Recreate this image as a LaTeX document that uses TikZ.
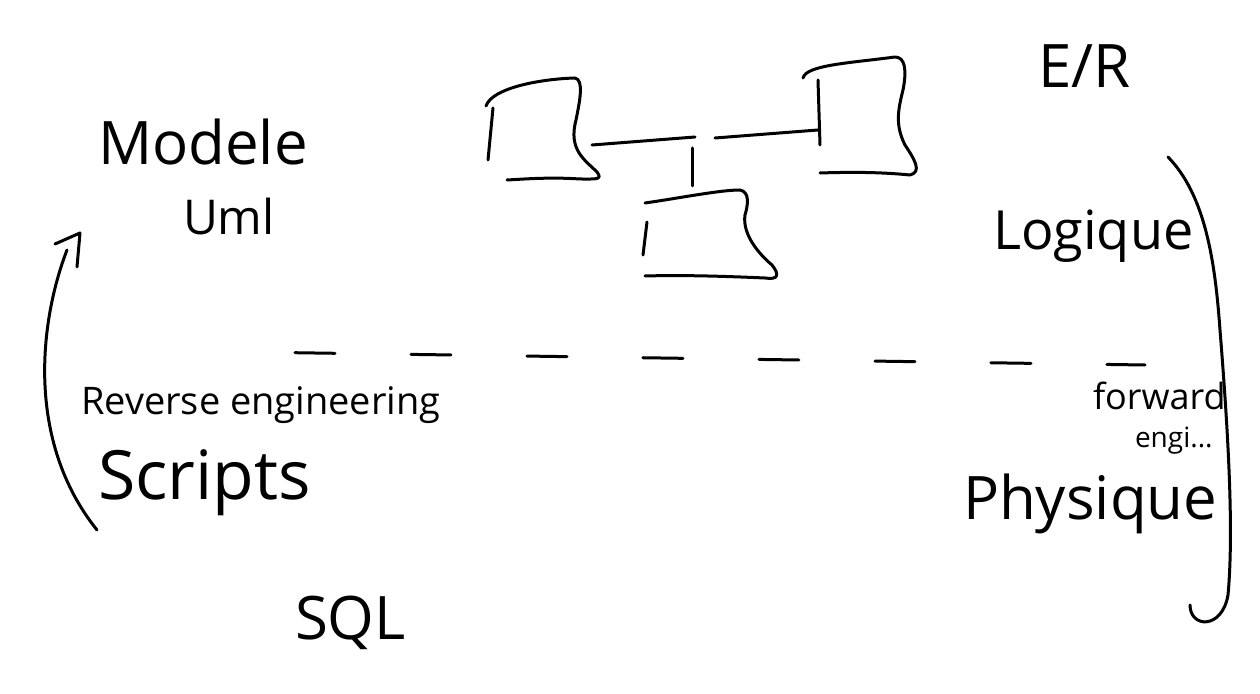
\documentclass[tikz,border=0pt]{standalone}
\usepackage{fontspec}
\setmainfont{Open Sans}

\begin{document}
\begin{tikzpicture}[x=0.5pt, y=0.5pt, yscale=-1, xscale=1, line width=1.5pt, line cap=round, line join=round,
  lbl/.style={inner sep=0.75pt, anchor=base west, align=left}]
\useasboundingbox (0,0) rectangle (1260,694);
%Boxes
\draw (486,106) .. controls (492,88) and (540,79) .. (575,78) .. controls (584,80) and (580,100) .. (576,120) .. controls (568,150) and (585,160) .. (597,172) .. controls (603,180) and (596,179) .. (580,179) .. controls (550,177) and (525,179) .. (507,180);
\draw (493,108) -- (488,160);
\draw (803,78) .. controls (806,65) and (850,63) .. (895,57) .. controls (905,57) and (907,70) .. (903,90) .. controls (898,110) and (895,125) .. (905,145) .. controls (915,160) and (922,172) .. (910,175) .. controls (880,172) and (850,172) .. (820,173);
\draw (818,80) -- (820,145);
\draw (645,203) .. controls (680,198) and (720,190) .. (740,190) .. controls (750,192) and (748,205) .. (745,215) .. controls (742,235) and (760,255) .. (772,265) .. controls (780,275) and (778,280) .. (765,278) .. controls (720,276) and (680,275) .. (645,276);
\draw (647,222) -- (643,255);
%Links
\coordinate (boxA) at (592,145);
\coordinate (boxB) at (818,130);
\coordinate (boxC) at (692,186);
\coordinate (jL) at (695,137);
\coordinate (jR) at (715,138);
\coordinate (jT) at (692,148);
\draw (boxA) -- (jL);
\draw (jR) -- (boxB);
\draw (jT) -- (boxC);
%Dashed separation
\draw [dash pattern=on 20pt off 38pt, dash phase=-25pt] (245,352) -- (1145,365);
%Arrows
\draw (67,250) .. controls (40,320) and (25,440) .. (97,530);
\draw (55,244) -- (80,233) -- (77,267);
\draw (1168,157) .. controls (1205,195) and (1215,260) .. (1220,330) .. controls (1228,430) and (1234,530) .. (1228,595) .. controls (1222,630) and (1190,628) .. (1190,605);
%Text
\draw (95,165) node (modele) [lbl] {\fontsize{30}{36}\selectfont Modele};
\draw (180,235) node (uml) [lbl] {\fontsize{24}{28}\selectfont Uml};
\draw (1035,88) node (er) [lbl] {\fontsize{30}{36}\selectfont E/R};
\draw (990,250) node (logique) [lbl] {\fontsize{27}{32}\selectfont Logique};
\draw (78,415) node (reverse) [lbl] {\fontsize{19}{22}\selectfont Reverse engineering};
\draw (95,500) node (scripts) [lbl] {\fontsize{34}{40}\selectfont Scripts};
\draw (292,640) node (sql) [lbl] {\fontsize{30}{36}\selectfont SQL};
\draw (1090,410) node (forward) [lbl] {\fontsize{18}{22}\selectfont forward};
\draw (1132,448) node (engi) [lbl] {\fontsize{14}{18}\selectfont engi...};
\draw (960,520) node (physique) [lbl] {\fontsize{30}{36}\selectfont Physique};
\end{tikzpicture}
\end{document}
